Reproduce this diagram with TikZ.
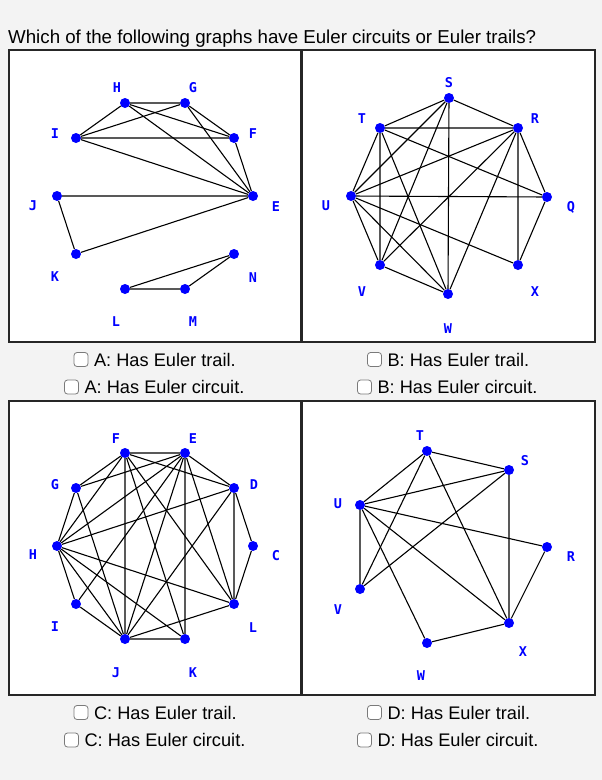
\documentclass[tikz,border=0pt]{standalone}
\usepackage{fontspec}
\setmainfont{Liberation Sans}
\newfontfamily\lblfont{DejaVu Sans Mono}
\usetikzlibrary{positioning}
\definecolor{pagebg}{HTML}{F3F3F3}
\definecolor{dotblue}{HTML}{0000FF}
\definecolor{chkgray}{HTML}{7A7A7A}

\begin{document}
\begin{tikzpicture}[x=1pt, y=-1pt,
                    vtx/.style={circle, fill=dotblue, inner sep=0pt, minimum size=10pt},
                    lbl/.style={text=dotblue, inner sep=0pt, font=\lblfont\bfseries\fontsize{13.5}{14}\selectfont},
                    edge/.style={line width=1.1pt, black},
                    panel/.style={draw=black!85, fill=white, line width=1.4pt},
                    chk/.style={draw=chkgray, fill=white, rounded corners=3pt, minimum size=14pt, inner sep=0pt, line width=0.8pt},
                    opt/.style={inner sep=0pt, font=\fontsize{18.2}{22}\selectfont}]

\fill[pagebg] (0,0) rectangle (602,780);
\useasboundingbox (0,0) rectangle (602,780);

\node[anchor=base west, inner sep=0pt, font=\fontsize{18.7}{22}\selectfont] (title) at (8,43)
  {Which of the following graphs have Euler circuits or Euler trails?};

\draw[panel] (9,50) rectangle (301,342);
\draw[panel] (302,50) rectangle (595,342);
\draw[panel] (9,401) rectangle (301,695);
\draw[panel] (302,401) rectangle (595,695);

% graph A
\node [vtx] (aH) at (125,103) {};
\node [vtx] (aG) at (185,103) {};
\node [vtx] (aI) at (76,138) {};
\node [vtx] (aF) at (234,138) {};
\node [vtx] (aJ) at (57,196) {};
\node [vtx] (aE) at (253,196) {};
\node [vtx] (aK) at (76,254) {};
\node [vtx] (aN) at (234,254) {};
\node [vtx] (aL) at (125,289) {};
\node [vtx] (aM) at (185,289) {};

\node [lbl] (aHl) at (117,88) {H};
\node [lbl] (aGl) at (193,88) {G};
\node [lbl] (aIl) at (55,134) {I};
\node [lbl] (aFl) at (253,134) {F};
\node [lbl] (aJl) at (33,206) {J};
\node [lbl] (aEl) at (276,207) {E};
\node [lbl] (aKl) at (55,277) {K};
\node [lbl] (aNl) at (253,278) {N};
\node [lbl] (aLl) at (116,322) {L};
\node [lbl] (aMl) at (193,322) {M};

\draw [edge] (aH) -- (aG) (aH) -- (aI) (aH) -- (aF) (aH) -- (aE);
\draw [edge] (aG) -- (aI) (aG) -- (aF) (aG) -- (aE);
\draw [edge] (aI) -- (aF) (aI) -- (aE) (aF) -- (aE);
\draw [edge] (aJ) -- (aE) (aJ) -- (aK) (aK) -- (aE);
\draw [edge] (aL) -- (aM) (aL) -- (aN) (aM) -- (aN);

% graph B
\node [vtx] (bS) at (449,98) {};
\node [vtx] (bT) at (380,128) {};
\node [vtx] (bR) at (518,128) {};
\node [vtx] (bU) at (351,196) {};
\node [vtx] (bQ) at (547,197) {};
\node [vtx] (bV) at (380,265) {};
\node [vtx] (bX) at (518,265) {};
\node [vtx] (bW) at (448,294) {};

\node [lbl] (bSl) at (449,83) {S};
\node [lbl] (bTl) at (362,119) {T};
\node [lbl] (bRl) at (535,119) {R};
\node [lbl] (bUl) at (326,206) {U};
\node [lbl] (bQl) at (571,207) {Q};
\node [lbl] (bVl) at (362,292) {V};
\node [lbl] (bXl) at (535,292) {X};
\node [lbl] (bWl) at (448,329) {W};

\draw [edge] (bS) -- (bT) (bS) -- (bR) (bS) -- (bU) (bS) -- (bV) (bS) -- (bW);
\draw [edge] (bT) -- (bR) (bT) -- (bU) (bT) -- (bV) (bT) -- (bQ) (bT) -- (bW);
\draw [edge] (bR) -- (bQ) (bR) -- (bX) (bR) -- (bU) (bR) -- (bV) (bR) -- (bW);
\draw [edge] (bU) -- (bQ) (bU) -- (bX) (bU) -- (bV) (bU) -- (bW);
\draw [edge] (bQ) -- (bX) (bV) -- (bW);

% graph C
\node [vtx] (cF) at (125,453) {};
\node [vtx] (cE) at (185,453) {};
\node [vtx] (cG) at (76,488) {};
\node [vtx] (cD) at (234,488) {};
\node [vtx] (cH) at (57,546) {};
\node [vtx] (cC) at (253,546) {};
\node [vtx] (cI) at (76,604) {};
\node [vtx] (cL) at (234,604) {};
\node [vtx] (cJ) at (125,639) {};
\node [vtx] (cK) at (185,639) {};

\node [lbl] (cFl) at (116,439) {F};
\node [lbl] (cEl) at (193,439) {E};
\node [lbl] (cGl) at (55,485) {G};
\node [lbl] (cDl) at (254,485) {D};
\node [lbl] (cHl) at (33,555) {H};
\node [lbl] (cCl) at (276,556) {C};
\node [lbl] (cIl) at (55,627) {I};
\node [lbl] (cLl) at (253,628) {L};
\node [lbl] (cJl) at (116,673) {J};
\node [lbl] (cKl) at (193,673) {K};

\draw [edge] (cF) -- (cE) (cF) -- (cG) (cF) -- (cH) (cF) -- (cJ) (cF) -- (cD) (cF) -- (cL) (cF) -- (cK);
\draw [edge] (cE) -- (cG) (cE) -- (cH) (cE) -- (cJ) (cE) -- (cK) (cE) -- (cD) (cE) -- (cL) (cE) -- (cI);
\draw [edge] (cD) -- (cC) (cD) -- (cL) (cD) -- (cH) (cD) -- (cJ) (cC) -- (cL);
\draw [edge] (cL) -- (cH) (cL) -- (cJ) (cK) -- (cJ) (cK) -- (cH);
\draw [edge] (cJ) -- (cI) (cJ) -- (cH) (cJ) -- (cG) (cI) -- (cH) (cH) -- (cG);

% graph D
\node [vtx] (dT) at (427,451) {};
\node [vtx] (dS) at (509,470) {};
\node [vtx] (dU) at (360,505) {};
\node [vtx] (dR) at (547,547) {};
\node [vtx] (dV) at (360,589) {};
\node [vtx] (dX) at (509,623) {};
\node [vtx] (dW) at (427,643) {};

\node [lbl] (dTl) at (420,436) {T};
\node [lbl] (dSl) at (525,461) {S};
\node [lbl] (dUl) at (338,504) {U};
\node [lbl] (dRl) at (571,557) {R};
\node [lbl] (dVl) at (338,610) {V};
\node [lbl] (dXl) at (523,652) {X};
\node [lbl] (dWl) at (421,676) {W};

\draw [edge] (dT) -- (dS) (dT) -- (dU) (dT) -- (dV) (dT) -- (dX);
\draw [edge] (dS) -- (dU) (dS) -- (dV) (dS) -- (dX);
\draw [edge] (dU) -- (dR) (dU) -- (dV) (dU) -- (dX) (dU) -- (dW);
\draw [edge] (dR) -- (dX) (dW) -- (dX);

% check boxes
\node [chk] (a1b) at (81,359.5) {};
\node [opt, right=5.5pt of a1b] (a1t) {A: Has Euler trail.};
\node [chk] (a2b) at (71.5,387) {};
\node [opt, right=5.5pt of a2b] (a2t) {A: Has Euler circuit.};
\node [chk] (b1b) at (374.5,359.5) {};
\node [opt, right=5.5pt of b1b] (b1t) {B: Has Euler trail.};
\node [chk] (b2b) at (364.5,387) {};
\node [opt, right=5.5pt of b2b] (b2t) {B: Has Euler circuit.};
\node [chk] (c1b) at (81,712.5) {};
\node [opt, right=5.5pt of c1b] (c1t) {C: Has Euler trail.};
\node [chk] (c2b) at (71.5,740) {};
\node [opt, right=5.5pt of c2b] (c2t) {C: Has Euler circuit.};
\node [chk] (d1b) at (374.5,712.5) {};
\node [opt, right=5.5pt of d1b] (d1t) {D: Has Euler trail.};
\node [chk] (d2b) at (364.5,740) {};
\node [opt, right=5.5pt of d2b] (d2t) {D: Has Euler circuit.};

\end{tikzpicture}
\end{document}
